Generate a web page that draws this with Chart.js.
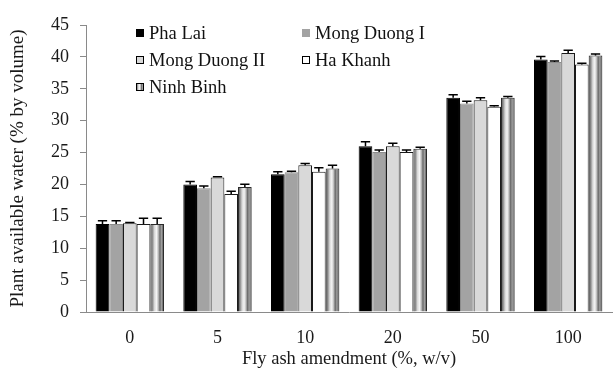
<!DOCTYPE html>
<html>
<head>
<meta charset="utf-8">
<script src="https://cdn.jsdelivr.net/npm/chart.js@4/dist/chart.umd.min.js"></script>
<style>
  html, body { margin: 0; padding: 0; background: #fff; }
  #wrap { width: 614px; height: 374px; }
</style>
</head>
<body>
<div id="wrap"><canvas id="c" width="614" height="374"></canvas></div>
<script>
// Fly ash amendment levels (%, w/v)
const categories = ['0', '5', '10', '20', '50', '100'];

// Plant available water (% by volume), mean per ash source
const phaLai      = [13.8, 20.0, 21.6, 26.0, 33.6, 39.6];
const mongDuongI  = [13.8, 19.4, 21.9, 25.1, 32.7, 39.2];
const mongDuongII = [13.9, 21.1, 23.0, 26.0, 33.2, 40.6];
const haKhanh     = [13.8, 18.5, 22.0, 25.1, 32.2, 38.8];
const ninhBinh    = [13.8, 19.6, 22.5, 25.6, 33.6, 40.2];

// Standard errors (upper bars only)
const phaLaiErr      = [0.5, 0.45, 0.4, 0.7, 0.45, 0.45];
const mongDuongIErr  = [0.5, 0.35, 0.15, 0.3, 0.35, 0.15];
const mongDuongIIErr = [0.15, 0.1, 0.3, 0.45, 0.4, 0.45];
const haKhanhErr     = [0.9, 0.45, 0.6, 0.3, 0.15, 0.2];
const ninhBinhErr    = [0.9, 0.45, 0.5, 0.25, 0.2, 0.25];

const yTicks = [0, 5, 10, 15, 20, 25, 30, 35, 40, 45];

const SERIF = '"Liberation Serif", "Times New Roman", serif';

// Ninh Binh bars get a shaded cylinder-like fill across each bar's width
function stripedFill(ctx, x0, x1) {
  const g = ctx.createLinearGradient(x0, 0, x1, 0);
  g.addColorStop(0.00, '#4a4a4a');
  g.addColorStop(0.15, '#8a8a8a');
  g.addColorStop(0.30, '#d8d8d8');
  g.addColorStop(0.45, '#f4f4f4');
  g.addColorStop(0.58, '#bdbdbd');
  g.addColorStop(0.70, '#6a6a6a');
  g.addColorStop(0.82, '#a0a0a0');
  g.addColorStop(1.00, '#3c3c3c');
  return g;
}

const stripePlugin = {
  id: 'stripes',
  beforeDatasetsDraw(chart) {
    const ctx = chart.ctx;
    chart.data.datasets.forEach((ds, i) => {
      if (!ds.striped) return;
      chart.getDatasetMeta(i).data.forEach(bar => {
        const p = bar.getProps(['x', 'width'], true);
        bar.options = Object.assign({}, bar.options, {
          backgroundColor: stripedFill(ctx, p.x - p.width / 2, p.x + p.width / 2)
        });
      });
    });
  }
};

// Upper error whiskers with caps
const errorBarPlugin = {
  id: 'errorBars',
  afterDatasetsDraw(chart) {
    const ctx = chart.ctx;
    const y = chart.scales.y;
    ctx.save();
    ctx.strokeStyle = '#000';
    ctx.lineWidth = 1.5;
    chart.data.datasets.forEach((ds, i) => {
      const meta = chart.getDatasetMeta(i);
      meta.data.forEach((bar, j) => {
        const v = ds.data[j];
        const e = ds.errors[j];
        const p = bar.getProps(['x', 'width'], true);
        const yTop = y.getPixelForValue(v + e);
        const yBar = y.getPixelForValue(v);
        const half = p.width * 0.34;
        ctx.beginPath();
        ctx.moveTo(p.x, yBar);
        ctx.lineTo(p.x, yTop);
        ctx.moveTo(p.x - half, yTop);
        ctx.lineTo(p.x + half, yTop);
        ctx.stroke();
      });
    });
    ctx.restore();
  }
};

// Legend drawn inside the plot area, two columns
const insideLegend = {
  id: 'insideLegend',
  afterDraw(chart) {
    const ctx = chart.ctx;
    const cols = [136, 302];
    const rows = [33, 60, 87];
    ctx.save();
    ctx.font = '18.5px ' + SERIF;
    ctx.textBaseline = 'middle';
    ctx.fillStyle = '#111';
    chart.data.datasets.forEach((ds, i) => {
      const bx = cols[i % 2];
      const by = rows[Math.floor(i / 2)];
      const s = 8;
      const x0 = bx, y0 = by - s / 2;
      if (ds.striped) {
        ctx.fillStyle = stripedFill(ctx, x0, x0 + s);
      } else {
        ctx.fillStyle = ds.backgroundColor;
      }
      ctx.fillRect(x0, y0, s, s);
      if (ds.legendBorder) {
        ctx.strokeStyle = '#000';
        ctx.lineWidth = 1;
        ctx.strokeRect(x0 + 0.5, y0 + 0.5, s - 1, s - 1);
      }
      ctx.fillStyle = '#111';
      ctx.fillText(ds.label, x0 + 13, by + 1);
    });
    ctx.restore();
  }
};

const mk = (label, data, errors, bg, border, extra) => Object.assign({
  label, data, errors,
  backgroundColor: bg,
  borderColor: border,
  borderWidth: 1,
  borderSkipped: 'bottom',
  categoryPercentage: 0.78,
  barPercentage: 1.0
}, extra || {});

new Chart(document.getElementById('c'), {
  type: 'bar',
  data: {
    labels: categories,
    datasets: [
      mk('Pha Lai', phaLai, phaLaiErr, '#000000', '#000000', { legendBorder: false }),
      mk('Mong Duong I', mongDuongI, mongDuongIErr, '#a3a3a3', '#8c8c8c', { legendBorder: false }),
      mk('Mong Duong II', mongDuongII, mongDuongIIErr, '#d9d9d9', '#1a1a1a', { legendBorder: true }),
      mk('Ha Khanh', haKhanh, haKhanhErr, '#ffffff', '#1a1a1a', { legendBorder: true }),
      mk('Ninh Binh', ninhBinh, ninhBinhErr, (c) => '#999999', '#2a2a2a', { legendBorder: true, striped: true })
    ]
  },
  options: {
    responsive: false,
    animation: false,
    devicePixelRatio: 1,
    layout: { padding: { top: 25, right: 2, bottom: 0, left: 0 } },
    plugins: {
      legend: { display: false },
      tooltip: { enabled: false }
    },
    scales: {
      x: {
        grid: { display: false },
        border: { display: true, color: '#8a8a8a', width: 1 },
        ticks: { color: '#1a1a1a', font: { family: SERIF, size: 18 }, padding: 7, maxRotation: 0 },
        title: {
          display: true,
          text: 'Fly ash amendment (%, w/v)',
          color: '#1a1a1a',
          font: { family: SERIF, size: 18.5 },
          padding: { top: 0, bottom: 4 }
        },
        afterFit(scale) { scale.height = 62; }
      },
      y: {
        min: 0,
        max: 45,
        afterBuildTicks(scale) { scale.ticks = yTicks.map(v => ({ value: v })); },
        grid: { drawOnChartArea: false, drawTicks: true, tickLength: 6, color: '#8a8a8a' },
        border: { display: true, color: '#8a8a8a', width: 1 },
        ticks: { color: '#1a1a1a', font: { family: SERIF, size: 18 }, padding: 11 },
        title: {
          display: true,
          text: 'Plant available water (% by volume)',
          color: '#1a1a1a',
          font: { family: SERIF, size: 19 },
          padding: { top: 7, bottom: 0 }
        },
        afterFit(scale) { scale.width = 86; }
      }
    }
  },
  plugins: [stripePlugin, errorBarPlugin, insideLegend]
});
</script>
</body>
</html>
